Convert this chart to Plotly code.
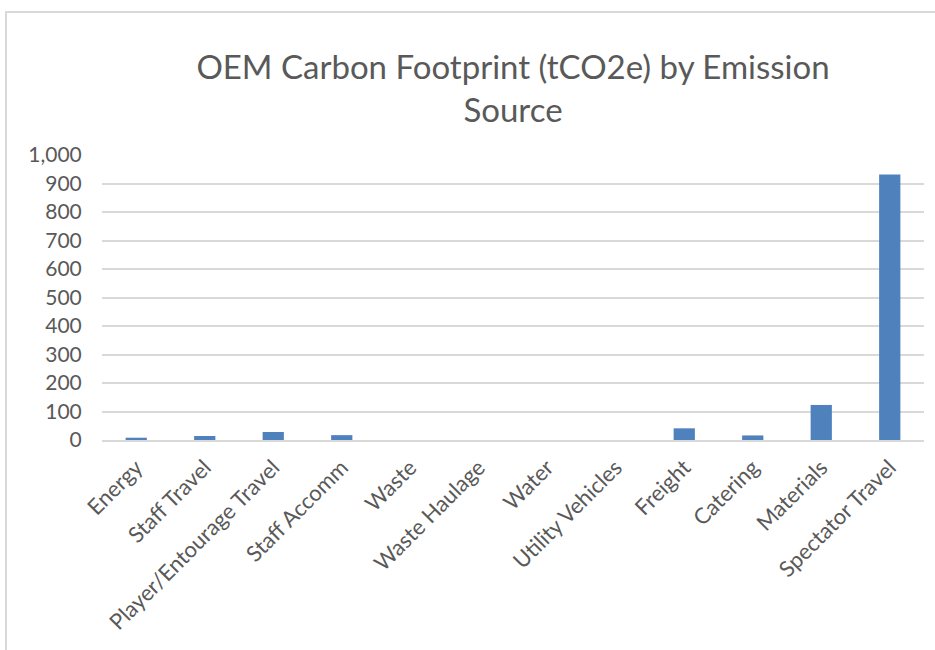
import plotly.graph_objects as go

# Emission sources and their footprint in tonnes CO2e
sources = [
    "Energy", "Staff Travel", "Player/Entourage Travel", "Staff Accomm",
    "Waste", "Waste Haulage", "Water", "Utility Vehicles",
    "Freight", "Catering", "Materials", "Spectator Travel",
]
tco2e = [8, 14, 28, 17, 0, 0, 0, 0, 41, 16, 123, 932]

y_ticks = list(range(0, 1001, 100))
y_tick_text = [f"{v:,}" for v in y_ticks]

text_grey = "#595959"
grid_grey = "#D9D9D9"
bar_blue = "#4F81BD"
font_family = "Lato, 'Open Sans', sans-serif"

fig = go.Figure(
    go.Bar(
        x=sources,
        y=tco2e,
        marker=dict(color=bar_blue, line=dict(width=0)),
        hoverinfo="x+y",
    )
)

fig.update_layout(
    width=935,
    height=650,
    margin=dict(l=102, r=11, t=155, b=210),
    paper_bgcolor="white",
    plot_bgcolor="white",
    bargap=0.69,
    showlegend=False,
    font=dict(family=font_family, color=text_grey, size=20),
    title=dict(
        text="OEM Carbon Footprint (tCO2e) by Emission<br>Source",
        x=0.5,
        xref="paper",
        xanchor="center",
        y=1 - 79 / 650,
        yanchor="top",
        font=dict(family=font_family, size=33, color=text_grey),
    ),
    xaxis=dict(
        tickangle=-45,
        showgrid=False,
        showline=True,
        linecolor=grid_grey,
        linewidth=2,
        ticks="outside",
        ticklen=4,
        tickcolor="white",
        tickfont=dict(size=22, color=text_grey),
    ),
    yaxis=dict(
        range=[0, 1000],
        tickvals=y_ticks,
        ticktext=y_tick_text,
        showgrid=True,
        gridcolor=grid_grey,
        gridwidth=2,
        zeroline=False,
        showline=False,
        ticks="outside",
        ticklen=15,
        tickcolor="white",
        tickfont=dict(size=21, color=text_grey),
    ),
    shapes=[
        # chart-area frame (left and top edges)
        dict(
            type="path",
            xref="paper",
            yref="paper",
            path="M -0.1168,-0.8 L -0.1168,1.5018 L 1.05,1.5018",
            line=dict(color=grid_grey, width=2),
        )
    ],
)

fig.write_html("out.html")
